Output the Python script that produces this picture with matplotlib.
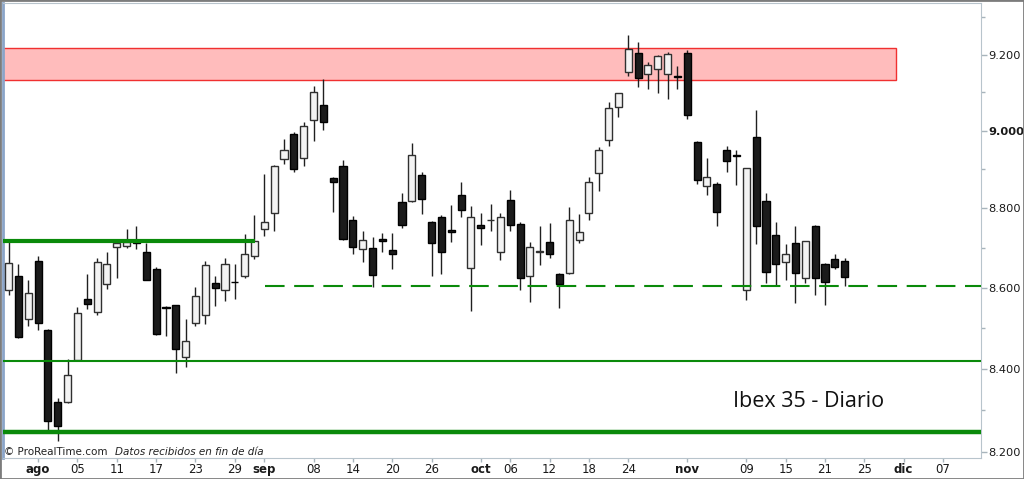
import matplotlib
matplotlib.use('Agg')
import matplotlib.pyplot as plt
import numpy as np
import pandas as pd
from matplotlib.patches import Rectangle
from matplotlib.ticker import FixedLocator, NullFormatter

# trading calendar (weekdays), candles start 27 Jul 2016
calendar = pd.bdate_range('2016-07-27', '2016-12-09')

opens = [8593, 8630, 8523, 8666, 8495, 8319, 8321, 8422, 8572, 8540,
         8609, 8701, 8705, 8714, 8688, 8647, 8551, 8556, 8430, 8513,
         8531, 8612, 8595, 8615, 8630, 8678, 8747, 8789, 8927, 8990,
         8930, 9027, 9066, 8877, 8908, 8770, 8698, 8700, 8723, 8694,
         8817, 8819, 8885, 8766, 8778, 8744, 8834, 8648, 8757, 8769,
         8690, 8821, 8761, 8630, 8690, 8715, 8635, 8637, 8720, 8787,
         8890, 8975, 9062, 9154, 9204, 9149, 9162, 9149, 9144, 9206,
         8971, 8857, 8862, 8949, 8936, 8595, 8983, 8819, 8732, 8665,
         8713, 8623, 8754, 8660, 8671, 8667]
highs = [8714, 8658, 8618, 8679, 8498, 8329, 8424, 8552, 8633, 8675,
         8689, 8713, 8747, 8754, 8713, 8652, 8554, 8558, 8523, 8602,
         8667, 8629, 8675, 8660, 8734, 8783, 8887, 8911, 8979, 8996,
         9023, 9117, 9136, 8881, 8924, 8780, 8743, 8726, 8738, 8737,
         8838, 8967, 8894, 8768, 8782, 8808, 8866, 8806, 8789, 8810,
         8789, 8846, 8764, 8715, 8755, 8762, 8636, 8802, 8785, 8881,
         8958, 9076, 9099, 9253, 9235, 9182, 9200, 9207, 9171, 9213,
         8973, 8930, 8866, 8960, 8951, 8902, 9053, 8840, 8766, 8709,
         8755, 8717, 8757, 8661, 8684, 8675]
lows = [8581, 8475, 8504, 8496, 8253, 8227, 8317, 8420, 8546, 8531,
        8597, 8625, 8699, 8696, 8618, 8484, 8480, 8391, 8405, 8504,
        8509, 8554, 8566, 8572, 8625, 8671, 8730, 8743, 8913, 8893,
        8908, 8973, 9003, 8791, 8720, 8684, 8664, 8602, 8689, 8647,
        8749, 8815, 8785, 8629, 8635, 8715, 8779, 8542, 8706, 8743,
        8669, 8741, 8593, 8564, 8656, 8675, 8550, 8635, 8713, 8770,
        8844, 8960, 9035, 9143, 9115, 9110, 9099, 9084, 9108, 9031,
        8863, 8834, 8756, 8892, 8859, 8569, 8709, 8612, 8603, 8620,
        8562, 8612, 8581, 8558, 8646, 8603]
closes = [8661, 8478, 8587, 8513, 8275, 8263, 8384, 8538, 8560, 8665,
          8658, 8713, 8714, 8711, 8620, 8486, 8549, 8449, 8467, 8579,
          8656, 8599, 8660, 8613, 8685, 8716, 8764, 8908, 8951, 8900,
          9013, 9101, 9023, 8866, 8723, 8702, 8720, 8631, 8716, 8685,
          8758, 8936, 8823, 8711, 8688, 8740, 8796, 8779, 8751, 8771,
          8779, 8758, 8623, 8702, 8692, 8685, 8608, 8770, 8740, 8866,
          8949, 9060, 9099, 9216, 9139, 9172, 9196, 9202, 9142, 9040,
          8873, 8881, 8791, 8920, 8935, 8902, 8755, 8639, 8658, 8685,
          8637, 8717, 8623, 8614, 8651, 8627]

tick_dates = ['2016-08-01', '2016-08-05', '2016-08-11', '2016-08-17', '2016-08-23',
              '2016-08-29', '2016-09-01', '2016-09-08', '2016-09-14', '2016-09-20',
              '2016-09-26', '2016-10-03', '2016-10-06', '2016-10-12', '2016-10-18',
              '2016-10-24', '2016-11-01', '2016-11-09', '2016-11-15', '2016-11-21',
              '2016-11-25', '2016-12-01', '2016-12-07']
tick_labels = ['ago', '05', '11', '17', '23', '29', 'sep', '08', '14', '20', '26',
               'oct', '06', '12', '18', '24', 'nov', '09', '15', '21', '25', 'dic', '07']
month_labels = ['ago', 'sep', 'oct', 'nov', 'dic']

resistance_zone = (9134, 9218)
support_upper = 8717
support_dashed = 8603
support_mid = 8420
support_low = 8249

y_ticks = [8200, 8400, 8600, 8800, 9000, 9200]
y_minor = [8300, 8500, 8700, 8900, 9100, 9300]

fig = plt.figure(figsize=(10.24, 4.79), dpi=100)
ax = fig.add_axes([0.003, 0.0438, 0.955, 0.95])

x = np.arange(len(opens))
o = np.array(opens, float)
h = np.array(highs, float)
l = np.array(lows, float)
c = np.array(closes, float)
up = c >= o

# resistance zone
zone = Rectangle((-5, resistance_zone[0]), 5 + 90.2, resistance_zone[1] - resistance_zone[0],
                 facecolor='#ffbcbc', edgecolor='#f03030', lw=1, zorder=1)
ax.add_patch(zone)

# candles
ax.vlines(x, l, h, color='#202020', lw=1, zorder=2)
body_bot = np.minimum(o, c)
body_h = np.maximum(np.abs(c - o), 2)
ax.bar(x[up], body_h[up], bottom=body_bot[up], width=0.72,
       facecolor='#f3f3f3', edgecolor='#303030', lw=1, zorder=3)
ax.bar(x[~up], body_h[~up], bottom=body_bot[~up], width=0.72,
       facecolor='#1b1b1b', edgecolor='#000000', lw=1, zorder=3)

# support lines
green = '#0a8a0a'
ax.plot([-5, 25.06], [support_upper] * 2, color=green, lw=3, solid_capstyle='butt', zorder=4)
ax.plot([26.08, 100], [support_dashed] * 2, color=green, lw=1.5, dashes=(9.4, 4.6), zorder=4)
ax.plot([-5, 100], [support_mid] * 2, color=green, lw=1.5, zorder=4)
ax.plot([-5, 100], [support_low] * 2, color=green, lw=3.2, zorder=4)

ax.set_yscale('log')
ax.set_xlim(-0.56, 98.86)
ax.set_ylim(8186, 9339)

ax.yaxis.tick_right()
ax.yaxis.set_major_locator(FixedLocator(y_ticks))
ax.yaxis.set_minor_locator(FixedLocator(y_minor))
ax.yaxis.set_minor_formatter(NullFormatter())
ax.set_yticklabels([f'{v / 1000:.3f}' for v in y_ticks])
for lbl in ax.get_yticklabels():
    lbl.set_fontweight('bold' if lbl.get_text() == '9.000' else 'normal')

tick_pos = [calendar.get_loc(pd.Timestamp(d)) for d in tick_dates]
ax.set_xticks(tick_pos)
ax.set_xticklabels(tick_labels)
for lbl in ax.get_xticklabels():
    if lbl.get_text() in month_labels:
        lbl.set_fontweight('bold')

ax.tick_params(axis='y', which='major', length=4, width=1, color='#a8b4bc',
               labelsize=8.2, labelcolor='#1a1a1a', pad=1.5)
ax.tick_params(axis='x', which='major', length=3, width=1, color='#a8b4bc',
               labelsize=8.5, labelcolor='#1a1a1a', pad=0.5)
ax.tick_params(axis='y', which='minor', length=3, width=1, color='#a8b4bc')

for side in ['top', 'right', 'bottom']:
    ax.spines[side].set_color('#b8c4cc')
ax.spines['left'].set_color('#8aa4c8')
ax.spines['left'].set_linewidth(2)

ax.text(0.824, 0.1127, 'Ibex 35 - Diario', transform=ax.transAxes, ha='center',
        va='baseline', fontsize=15.5, family='Open Sans', color='#111111', zorder=5)

fig.text(4 / 1024, 24 / 479, '\u00a9 ProRealTime.com', fontsize=7.5, color='#222222')
fig.text(115 / 1024, 24 / 479, 'Datos recibidos en fin de d\u00eda', fontsize=7.5,
         style='italic', color='#222222')

fig.patches.append(Rectangle((0, 0), 1, 1, transform=fig.transFigure, fill=False,
                             edgecolor='#7c7c7c', lw=2))

fig.savefig('out.png', dpi=100)
